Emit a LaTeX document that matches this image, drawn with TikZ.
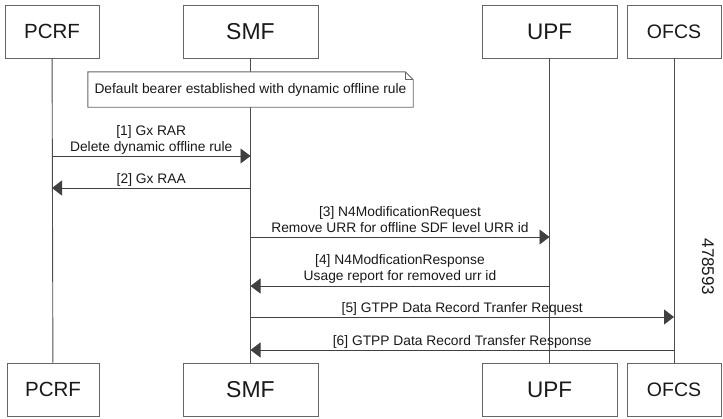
\documentclass[tikz,border=0pt]{standalone}
\usepackage{fontspec}
\setmainfont{Liberation Sans}
\usetikzlibrary{arrows.meta}

\tikzset{
  entity/.style={draw=black!60, line width=0.9pt, fill=white, inner sep=0pt, minimum height=53pt, text=black!90},
  lifeline/.style={draw=black!70, line width=0.9pt},
  msg/.style={draw=black!75, line width=0.9pt, -{Triangle[length=10pt,width=15pt]}},
  msglabel/.style={inner sep=0pt, align=center, text=black!90, font=\fontsize{13.8}{16}\selectfont},
}

\begin{document}
\begin{tikzpicture}[x=1pt,y=-1pt]
\useasboundingbox (0,0) rectangle (723,418);

% ENTITIES %%%%%%%%%%%%%%%%%%%%%%%%%%%%%%%%%%%%%%%%%%%%%%%%%%%%%%%%%%%%%%%

\node[entity, minimum width=94pt, font=\fontsize{20.5}{20.5}\selectfont] (pcrfT) at (52,31.5) {PCRF};
\node[entity, minimum width=135pt, font=\fontsize{23}{23}\selectfont] (smfT) at (250.5,31.5) {SMF};
\node[entity, minimum width=135pt, font=\fontsize{22.5}{22.5}\selectfont] (upfT) at (549.5,31.5) {UPF};
\node[entity, minimum width=94pt, font=\fontsize{19.5}{19.5}\selectfont] (ofcsT) at (674,31.5) {OFCS};

\node[entity, minimum width=92pt, font=\fontsize{20.5}{20.5}\selectfont] (pcrfB) at (53,389.5) {PCRF};
\node[entity, minimum width=135pt, font=\fontsize{23}{23}\selectfont] (smfB) at (250.5,389.5) {SMF};
\node[entity, minimum width=135pt, font=\fontsize{22.5}{22.5}\selectfont] (upfB) at (549.5,389.5) {UPF};
\node[entity, minimum width=94pt, font=\fontsize{19.5}{19.5}\selectfont] (ofcsB) at (674,389.5) {OFCS};

% LIFELINES %%%%%%%%%%%%%%%%%%%%%%%%%%%%%%%%%%%%%%%%%%%%%%%%%%%%%%%%%%%%%%

\draw[lifeline] (pcrfT) -- (pcrfB);
\draw[lifeline] (smfT) -- (smfB);
\draw[lifeline] (upfT) -- (upfB);
\draw[lifeline] (ofcsT) -- (ofcsB);

% NOTE %%%%%%%%%%%%%%%%%%%%%%%%%%%%%%%%%%%%%%%%%%%%%%%%%%%%%%%%%%%%%%%%%%%

\node[msglabel, minimum width=325pt, minimum height=35pt] (note) at (250.5,89.5) {};
\draw[draw=black!60, line width=0.9pt, fill=white] (note.north west) -- ([xshift=-8pt]note.north east) -- ([yshift=-8pt]note.north east) -- (note.south east) -- (note.south west) -- cycle;
\draw[draw=black!60, line width=0.7pt] ([xshift=-8pt]note.north east) -- ([xshift=-8pt,yshift=-8pt]note.north east) -- ([yshift=-8pt]note.north east);
\node[msglabel] (notetext) at (note.center) {Default bearer established with dynamic offline rule};

% MESSAGES %%%%%%%%%%%%%%%%%%%%%%%%%%%%%%%%%%%%%%%%%%%%%%%%%%%%%%%%%%%%%%%

\coordinate (m1) at (0,156);
\coordinate (m2) at (0,188);
\coordinate (m3) at (0,237);
\coordinate (m4) at (0,286);
\coordinate (m5) at (0,317);
\coordinate (m6) at (0,350);

\draw[msg] (pcrfT |- m1) -- (smfT |- m1) node[msglabel, midway, above=0.8pt] {[1] Gx RAR\\Delete dynamic offline rule};
\draw[msg] (smfT |- m2) -- (pcrfT |- m2) node[msglabel, midway, above=1pt] {[2] Gx RAA};
\draw[msg] (smfT |- m3) -- (upfT |- m3) node[msglabel, midway, above=3.5pt] {[3] N4ModificationRequest\\Remove URR for offline SDF level URR id};
\draw[msg] (upfT |- m4) -- (smfT |- m4) node[msglabel, midway, above=2.5pt] {[4] N4ModficationResponse\\Usage report for removed urr id};
\draw[msg] (smfT |- m5) -- (ofcsT |- m5) node[msglabel, midway, above=1pt] {[5] GTPP Data Record Tranfer Request};
\draw[msg] (ofcsT |- m6) -- (smfT |- m6) node[msglabel, midway, above=1.5pt] {[6] GTPP Data Record Transfer Response};

% FIGURE ID

\node[rotate=-90, text=black!90, font=\fontsize{17}{17}\selectfont] (figid) at (708,267) {478593};

\end{tikzpicture}
\end{document}
